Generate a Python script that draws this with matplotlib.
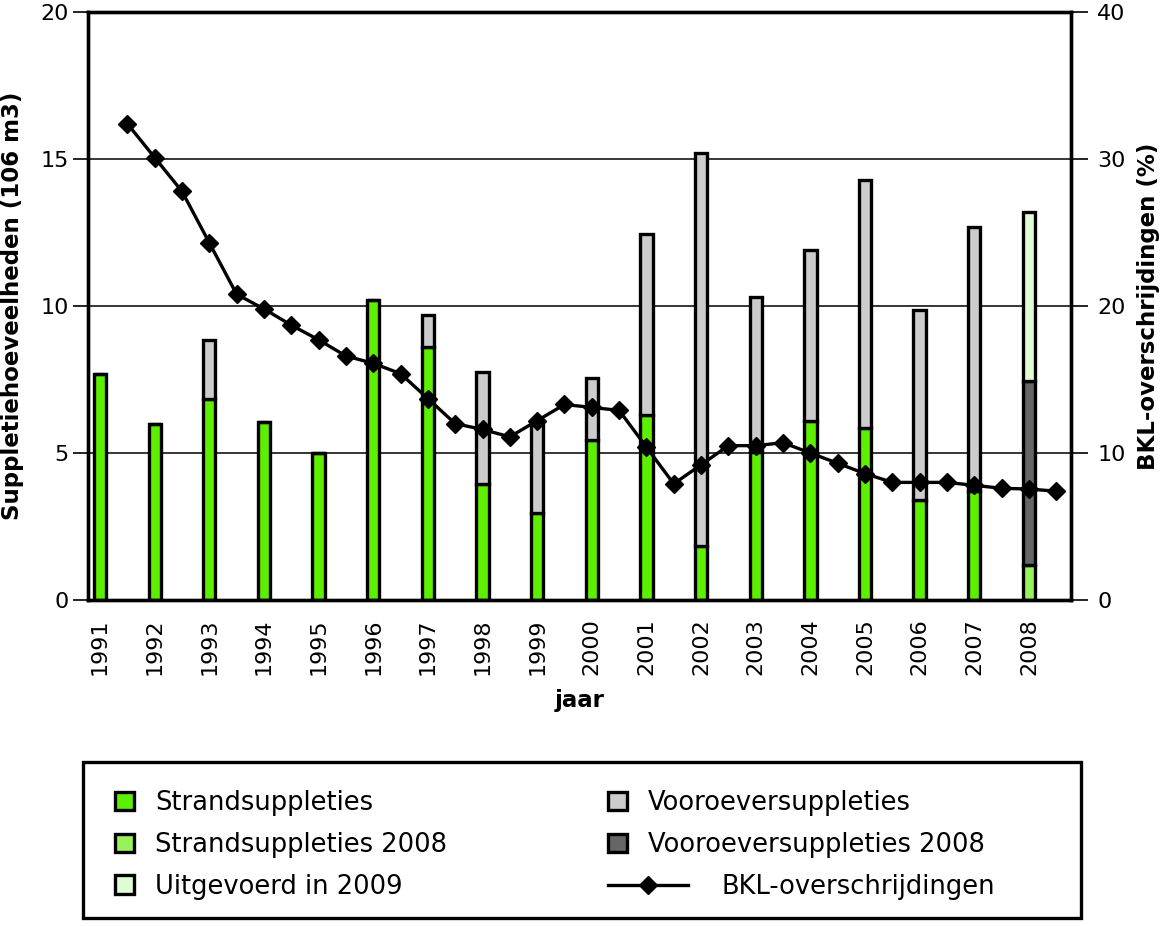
import numpy as np
import matplotlib
matplotlib.use("Agg")
import matplotlib.pyplot as plt
from matplotlib.patches import Rectangle

# bar data (10^6 m3)
years = np.arange(1991, 2009)
strand = [7.7, 6.0, 6.85, 6.05, 5.0, 10.2, 8.6, 3.95, 2.95, 5.45,
          6.3, 1.85, 5.05, 6.1, 5.85, 3.4, 3.7, 0.0]
vooroever = [0.0, 0.0, 2.0, 0.0, 0.0, 0.0, 1.1, 3.8, 3.15, 2.1,
             6.15, 13.35, 5.25, 5.8, 8.45, 6.45, 9.0, 0.0]
strand_2008 = 1.2
vooroever_2008 = 6.25
uitgevoerd_2009 = 5.75

# BKL line (%), half year steps
bkl_x = np.arange(1991.5, 2009.0, 0.5)
bkl = [32.4, 30.1, 27.8, 24.3, 20.8, 19.8, 18.7, 17.7, 16.6, 16.1,
       15.4, 13.7, 12.0, 11.6, 11.1, 12.2, 13.3, 13.1, 12.9, 10.4,
       7.9, 9.2, 10.5, 10.5, 10.7, 10.0, 9.3, 8.6, 8.0, 8.0,
       8.0, 7.8, 7.6, 7.55, 7.4]

c_green = '#5cf000'
c_green08 = '#98f25c'
c_light = '#e0fcd4'
c_grey = '#cccccc'
c_dark = '#666666'

plt.rcParams['font.family'] = 'DejaVu Sans'

fig = plt.figure(figsize=(11.62, 9.26), dpi=100)
ax = fig.add_axes([88/1162, 1-600/926, (1071-88)/1162, 588/926])

w = 0.225
lw = 2.4
kw = dict(width=w, edgecolor='black', linewidth=lw, zorder=2)
b1 = ax.bar(years, strand, color=c_green, label='Strandsuppleties', **kw)
b2 = ax.bar(years, vooroever, bottom=strand, color=c_grey, label='Vooroeversuppleties', **kw)
b3 = ax.bar([2008], [strand_2008], color=c_green08, label='Strandsuppleties 2008', **kw)
b4 = ax.bar([2008], [vooroever_2008], bottom=[strand_2008], color=c_dark,
            label='Vooroeversuppleties 2008', **kw)
b5 = ax.bar([2008], [uitgevoerd_2009], bottom=[strand_2008 + vooroever_2008],
            color=c_light, label='Uitgevoerd in 2009', **kw)

ax.set_xlim(1990.78, 2008.77)
ax.set_ylim(0, 20)
ax.set_yticks([0, 5, 10, 15, 20])
ax.set_xticks(years)
ax.set_xticklabels([str(y) for y in years], rotation=90, fontsize=16)
ax.tick_params(axis='x', length=0, pad=13)
ax.tick_params(axis='y', direction='out', length=11, width=1.2, labelsize=16, pad=3)
ax.yaxis.grid(True, color='black', linewidth=1.1)
ax.set_axisbelow(True)
for s in ax.spines.values():
    s.set_linewidth(2.4)
ax.set_xlabel('jaar', fontsize=16.5, fontweight='bold', labelpad=10)
ax.set_ylabel('Suppletiehoeveelheden (106 m3)', fontsize=16.5, fontweight='bold', labelpad=12)

ax2 = ax.twinx()
ln, = ax2.plot(bkl_x, bkl, color='black', linewidth=2.4, marker='D', markersize=9,
               label='BKL-overschrijdingen', zorder=3)
ax2.set_ylim(0, 40)
ax2.set_yticks([0, 10, 20, 30, 40])
ax2.tick_params(axis='y', direction='out', length=12, width=1.2, labelsize=16, pad=7)
for s in ax2.spines.values():
    s.set_linewidth(2.4)
ax2.set_ylabel('BKL-overschrijdingen (%)', fontsize=16.5, fontweight='bold', labelpad=8)

# legend box
fig.patches.append(Rectangle((83/1162, 1-918/926), 998/1162, 156/926, transform=fig.transFigure,
                             facecolor='white', edgecolor='black', linewidth=2.4))
lkw = dict(frameon=False, fontsize=18.5, borderpad=0, borderaxespad=0, loc='upper left',
           handlelength=0.75, handleheight=0.75, handletextpad=0.8, labelspacing=0.62)
fig.legend([b1, b3, b5], ['Strandsuppleties', 'Strandsuppleties 2008', 'Uitgevoerd in 2009'],
           bbox_to_anchor=(115/1162, 1-790/926), **lkw)
fig.legend([b2, b4], ['Vooroeversuppleties', 'Vooroeversuppleties 2008'],
           bbox_to_anchor=(608/1162, 1-790/926), **lkw)
lkw2 = dict(lkw)
lkw2.update(handlelength=3.1, handletextpad=1.3)
fig.legend([ln], ['BKL-overschrijdingen'], bbox_to_anchor=(608/1162, 1-874/926), **lkw2)

fig.savefig('out.png', dpi=100)
